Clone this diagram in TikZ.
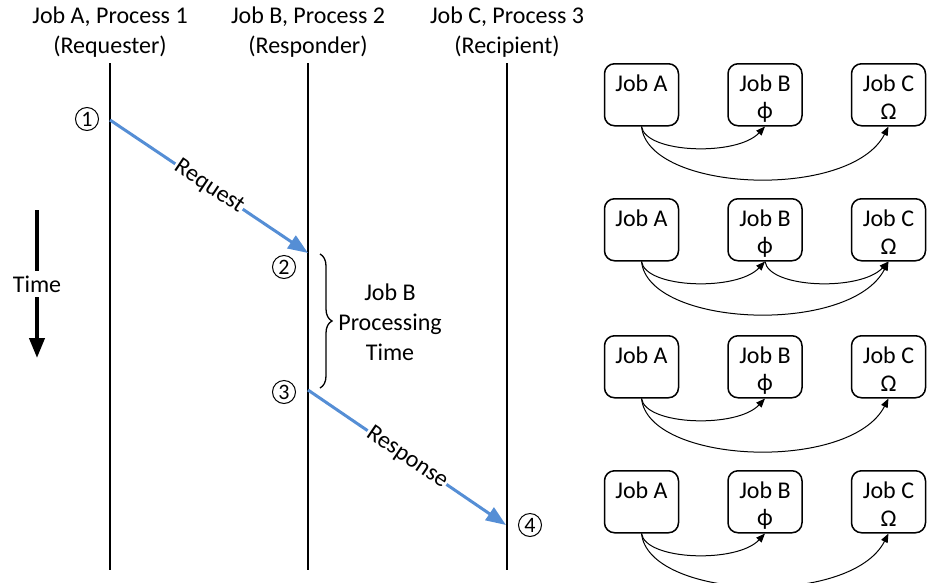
\documentclass[tikz,border=0pt]{standalone}
\usepackage{fontspec}
\setmainfont{Carlito}
\usetikzlibrary{arrows.meta,decorations.pathreplacing}
\definecolor{arrowblue}{RGB}{85,142,213}
\begin{document}
\begin{tikzpicture}[x=1pt,y=-1pt,
  font=\fontsize{24}{30}\selectfont,
  hdr/.style={align=center, inner sep=0pt},
  lifeline/.style={line width=2pt},
  msg/.style={line width=3pt, draw=arrowblue, -{Triangle[length=20pt,width=15pt]}},
  msglabel/.style={sloped, fill=white, inner sep=1pt},
  circnum/.style={circle, draw, line width=1pt, minimum size=23pt, inner sep=0pt, font=\fontsize{22}{22}\selectfont},
  jobbox/.style={draw, line width=1.5pt, rounded corners=10pt, minimum width=74pt, minimum height=62pt, inner sep=0pt},
  boxtext/.style={inner sep=0pt},
  dep/.style={line width=1pt, -{Triangle[length=9pt,width=7pt]}},
]
\useasboundingbox (0,0) rectangle (932,582);

% headers
\node[hdr] (hA) at (110,32) {Job A, Process 1\\(Requester)};
\node[hdr] (hB) at (308,32) {Job B, Process 2\\(Responder)};
\node[hdr] (hC) at (507,32) {Job C, Process 3\\(Recipient)};

% lifelines
\coordinate (Atop) at (110,63); \coordinate (Abot) at (110,570);
\coordinate (Btop) at (308,63); \coordinate (Bbot) at (308,570);
\coordinate (Ctop) at (507,63); \coordinate (Cbot) at (507,570);
\draw[lifeline] (Atop) -- (Abot);
\draw[lifeline] (Btop) -- (Bbot);
\draw[lifeline] (Ctop) -- (Cbot);

% messages
\coordinate (req1) at (110,120);
\coordinate (req2) at (308,253);
\coordinate (res1) at (308,390);
\coordinate (res2) at (506,525);
\draw[msg] (req1) -- node[msglabel] (reqlbl) {Request} (req2);
\draw[msg] (res1) -- node[msglabel] (reslbl) {Response} (res2);

% circled numbers
\node[circnum] (n1) at (87,119) {1};
\node[circnum] (n2) at (284,267) {2};
\node[circnum] (n3) at (284,392) {3};
\node[circnum] (n4) at (530,525) {4};

% brace
\coordinate (brtop) at (320,254);
\coordinate (brbot) at (320,388);
\draw[line width=1.3pt, decorate, decoration={brace, amplitude=12pt}] (brtop) -- (brbot);
\node[hdr] (proc) at (390,322) {Job B\\Processing\\Time};

% time arrow
\coordinate (ttop) at (37,210);
\coordinate (tbot) at (37,358);
\draw[line width=4pt, -{Triangle[length=20pt,width=15pt]}] (ttop) -- node[fill=white, inner sep=5pt] (tlbl) {Time} (tbot);

% dependency rows
\foreach \r/\yy in {1/63,2/198,3/335,4/470}{
  \node[jobbox, anchor=north] (A\r) at (641.5,\yy) {};
  \node[jobbox, anchor=north] (B\r) at (765,\yy) {};
  \node[jobbox, anchor=north] (C\r) at (888.5,\yy) {};
  \node[boxtext] (At\r) at ([yshift=-20pt]A\r.north) {Job A};
  \node[boxtext] (Bt\r) at ([yshift=-20pt]B\r.north) {Job B};
  \node[boxtext] (Bp\r) at ([yshift=-49pt]B\r.north) {ϕ};
  \node[boxtext] (Ct\r) at ([yshift=-20pt]C\r.north) {Job C};
  \node[boxtext] (Co\r) at ([yshift=-49pt]C\r.north) {Ω};
  \draw[dep] (A\r.south) .. controls +(4,27) and +(-28,30) .. (B\r.south);
  \draw[dep] (A\r.south) .. controls +(7,66) and +(-38,74) .. (C\r.south);
}
\draw[dep] (B2.south) .. controls +(4,27) and +(-28,30) .. (C2.south);
\end{tikzpicture}
\end{document}
